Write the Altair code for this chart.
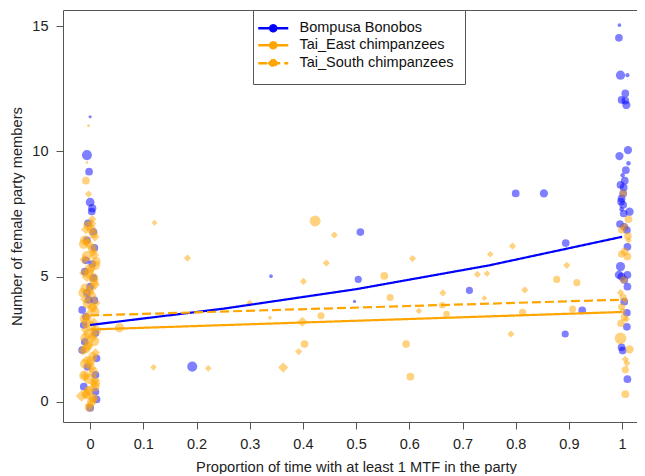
import altair as alt
import pandas as pd

BON = "Bompusa Bonobos"
EAST = "Tai_East chimpanzees"
SOUTH = "Tai_South chimpanzees"
groups = [BON, EAST, SOUTH]
colors = ["#0000FF", "#FFA500", "#FFA500"]
FONT = "Liberation Sans"
FRAME = "#555"

# ---- observed points (x = proportion of time, y = female party members, n = observation weight)
bon_x = [0.000, -0.006, -0.002, 0.000, 0.004, 0.003, -0.004, 0.006, -0.006, 0.008, -0.008, 0.004,
         -0.010, 0.006, 0.000, -0.006, -0.003, 0.008, -0.015, -0.008, -0.012, 0.010, -0.010, -0.015,
         0.012, -0.005, 0.010, -0.012, 0.010, 0.012, 0.000,
         0.508, 0.800, 0.853, 0.894, 0.340, 0.504, 0.713, 0.497, 0.893, 0.192, 0.925,
         0.995, 0.994, 0.997, 1.010, 1.006, 0.999, 1.006, 1.008, 1.011, 0.995, 1.012, 1.007, 1.001,
         1.005, 0.997, 1.003, 1.002, 0.999, 0.998, 1.002, 0.999, 1.014, 1.003, 0.996, 1.004, 1.009,
         1.010, 0.997, 0.994, 0.999, 1.010, 1.004, 1.010, 1.004, 1.009, 1.009, 0.999, 1.001, 1.010]
bon_y = [11.38, 9.85, 9.19, 7.97, 7.73, 7.60, 7.13, 6.79, 6.45, 6.15, 5.65, 5.50,
         5.20, 4.95, 4.60, 4.35, 4.07, 4.05, 3.67, 3.40, 3.07, 2.75, 2.40, 2.07,
         1.74, 1.40, 1.08, 0.61, 0.41, 0.10, -0.24,
         6.78, 8.32, 8.32, 6.34, 5.02, 4.89, 4.45, 4.01, 2.71, 1.41, 3.65,
         15.04, 14.53, 13.04, 13.04, 12.31, 12.05, 12.02, 11.85, 10.05, 9.81, 9.52, 9.25, 9.05,
         8.83, 8.66, 8.56, 8.32, 8.12, 7.99, 7.86, 7.69, 7.59, 7.52, 7.10, 6.99, 6.86,
         6.19, 5.40, 5.07, 5.00, 5.07, 4.87, 4.60, 4.00, 3.56, 3.00, 2.18, 2.05, 0.91]
bon_n = [0.6, 6, 3.5, 4.5, 4, 3.5, 3.5, 3.5, 3.5, 3.5, 3.5, 3.5,
         3.5, 3.5, 3.5, 3.5, 3.5, 3.5, 3.5, 3.5, 3.5, 3.5, 3.5, 3.5,
         3.5, 3.5, 3.5, 3.5, 3.5, 3.5, 3.5,
         3.5, 3.5, 4, 3.5, 0.8, 3, 3, 0.6, 3, 6, 3.5,
         0.8, 3.5, 5, 1, 3.5, 3.5, 3.5, 4, 4, 4, 1.2, 3.5, 1.2,
         3.5, 3.5, 3.5, 3.5, 3.5, 3.5, 3.5, 1.2, 4, 3.5, 3.5, 3.5, 3.5,
         3.5, 5, 4, 4, 3.5, 3.5, 3.5, 3.5, 3.5, 3.5, 3.5, 3.5, 3.5]

east_x = [-0.003, -0.006, -0.008, -0.004, 0.006, -0.010, 0.004, -0.006, 0.010, -0.002, 0.007, -0.009,
          0.003, -0.005, 0.009, -0.011, 0.002, -0.004, 0.008, -0.008, 0.005, -0.010, 0.006, -0.003,
          0.009, -0.007, 0.003, -0.002,
          0.002, -0.012, 0.011, -0.001, 0.007, -0.013, 0.004, -0.007, 0.012, -0.004, 0.001, -0.011,
          0.010, -0.002, 0.006, -0.009,
          0.423, 0.553, 0.877, 0.915, 0.564, 0.662, 0.670, 0.813, 0.907, 0.434, 0.055, 0.403, 0.594, 0.602,
          1.002, 1.012, 1.004, 0.999, 1.011, 1.005, 1.010, 0.999, 1.003, 1.002, 0.999, 1.004, 0.998,
          0.997, 1.014, 1.006, 1.006]
east_y = [11.02, 9.55, 8.83, 7.05, 6.72, 6.45, 6.12, 5.82, 5.45, 5.12, 4.80, 4.52,
          4.22, 3.92, 3.60, 3.32, 3.02, 2.70, 2.42, 2.12, 1.80, 1.52, 1.20, 0.92,
          0.60, 0.30, 0.02, -0.22,
          6.90, 6.30, 5.60, 5.30, 4.95, 4.35, 3.75, 3.15, 2.85, 2.25, 1.65, 1.05, 0.75, 0.45, 0.15, 2.55,
          7.22, 5.03, 4.89, 4.76, 4.17, 3.86, 3.51, 3.58, 3.71, 3.44, 2.96, 2.31, 2.31, 1.01,
          8.32, 7.29, 6.99, 6.86, 6.62, 6.00, 5.80, 5.90, 4.87, 4.18, 3.80, 3.38, 3.14,
          2.54, 2.10, 1.28, 0.31]
east_n = [0.5, 0.4, 3.5, 5, 5, 5.5, 5, 6, 5, 5.5, 5, 6,
          5, 5.5, 5, 5, 6, 5, 5.5, 5, 5, 5.5, 5, 6,
          5, 5.5, 5, 4.5,
          5, 5.5, 5, 6, 5, 5.5, 5, 6, 5, 5.5, 5, 6, 5, 5.5, 5, 6,
          7, 3.5, 3, 3, 3, 2.5, 2.5, 3, 3, 3, 5, 3.5, 3.5, 3.5,
          3, 3.5, 3, 3, 3.5, 3.5, 3.5, 3, 3, 3, 3, 3, 3.5,
          8, 4, 3, 3.5]

south_x = [-0.003, 0.003, -0.008, 0.009, -0.002, 0.006, -0.011, 0.002, -0.006, 0.010, -0.001, -0.010,
           0.005, -0.004, 0.007, -0.009, 0.004, -0.003, 0.010, -0.007, 0.002, -0.010, 0.007, -0.004,
           -0.016, 0.005, -0.001,
           -0.006, 0.008, -0.012, 0.003, 0.011, -0.005, 0.006, -0.013, 0.000, 0.009, -0.008, 0.004,
           0.121, 0.459, 0.183, 0.444, 0.606, 0.752, 0.794, 0.896, 0.401, 0.728, 0.746, 0.663,
           0.817, 0.741, 0.300, 0.618, 0.338, 0.399, 0.392, 0.791, 0.119, 0.222, 0.363,
           0.997, 1.006, 1.001, 1.008, 1.006, 1.009, 1.012]
south_y = [8.30, 7.12, 6.88, 6.58, 6.28, 5.98, 5.68, 5.32, 4.98, 4.68, 4.38, 4.10,
           3.78, 3.48, 3.18, 2.88, 2.56, 2.26, 1.96, 1.66, 1.36, 1.04, 0.74, 0.46,
           0.24, 0.12, -0.12,
           6.40, 5.85, 5.15, 4.55, 3.95, 3.35, 2.70, 2.05, 1.50, 0.88, 0.30, 7.30,
           7.15, 6.66, 5.74, 5.54, 5.72, 5.89, 6.22, 5.45, 4.81, 5.09, 5.13, 4.35,
           4.47, 4.14, 3.94, 3.63, 3.36, 3.20, 2.01, 2.71, 1.38, 1.34, 1.37,
           4.36, 4.05, 3.62, 3.30, 1.70, 1.54, 6.45]
south_n = [3, 5, 5.5, 5, 6, 5, 5.5, 5, 6, 5, 5.5, 5,
           6, 5, 5.5, 5, 6, 5, 5, 5.5, 6, 5, 5.5, 5,
           8, 5, 5,
           5, 5.5, 5, 6, 5, 5.5, 5, 6, 5, 5.5, 5, 4,
           2, 3, 3, 3, 3, 2.5, 3, 3, 3, 3, 2.5, 3,
           3, 2, 3, 2.5, 1.2, 6, 3, 3, 2.5, 2.5, 6,
           3, 2.5, 3, 3, 3, 3, 2.5]

# ---- fitted model lines
fit_bon_x = [0, 0.25, 0.5, 0.75, 1]
fit_bon_y = [3.07, 3.72, 4.50, 5.45, 6.59]
fit_east_x = [0, 1]
fit_east_y = [2.89, 3.59]
fit_south_x = [0, 1]
fit_south_y = [3.45, 4.08]

x_ticks = [0, 0.1, 0.2, 0.3, 0.4, 0.5, 0.6, 0.7, 0.8, 0.9, 1]
y_ticks = [0, 5, 10, 15]

circ = pd.concat([
    pd.DataFrame({"group": BON, "x": bon_x, "y": bon_y, "n": bon_n}),
    pd.DataFrame({"group": EAST, "x": east_x, "y": east_y, "n": east_n}),
], ignore_index=True)
diam = pd.DataFrame({"group": SOUTH, "x": south_x, "y": south_y, "n": south_n})

fits = pd.concat([
    pd.DataFrame({"group": BON, "x": fit_bon_x, "y": fit_bon_y}),
    pd.DataFrame({"group": EAST, "x": fit_east_x, "y": fit_east_y}),
    pd.DataFrame({"group": SOUTH, "x": fit_south_x, "y": fit_south_y}),
], ignore_index=True)

xscale = alt.Scale(domain=[-0.051, 1.028], nice=False, zero=False)
yscale = alt.Scale(domain=[-0.8, 15.64], nice=False, zero=False)
cscale = alt.Scale(domain=groups, range=colors)
dscale = alt.Scale(domain=groups, range=[[1, 0], [1, 0], [9, 4]])
sscale = alt.Scale(domain=[0, 10], range=[0, 170], zero=True)

# legend symbols: a line with the marker in the middle
P_CIRCLE = "M-3,0H3M0.6,0A0.6,0.6,0,1,1,-0.6,0A0.6,0.6,0,1,1,0.6,0Z"
P_DIAMOND = "M-3,0H3M0,-0.8L0.8,0L0,0.8L-0.8,0Z"
hscale = alt.Scale(domain=groups, range=[P_CIRCLE, P_CIRCLE, P_DIAMOND])

xaxis = alt.Axis(values=x_ticks, format="~g", title="Proportion of time with at least 1 MTF in the party",
                 grid=False, domain=True, labelBaseline="alphabetic", labelPadding=19, titleX=293, titleY=49,
                 titleBaseline="alphabetic", titleAlign="center", titleAnchor="start")
xaxis_top = alt.Axis(orient="top", grid=False, domain=True, ticks=False, labels=False, title=None)
yaxis = alt.Axis(values=y_ticks, format="d", title="Number of female party members", grid=False,
                 domain=True, labelPadding=8, labelBaseline="middle", titleX=-46, titleY=206, titleAngle=270,
                 titleAlign="center", titleBaseline="middle", titleAnchor="start")

legend = alt.Legend(orient="none", legendX=190, legendY=0, title=None,
                    symbolSize=100, symbolStrokeWidth=2.5, symbolOffset=2, labelOffset=19,
                    labelFont=FONT, labelFontSize=14.5, labelColor="#111", padding=11, rowPadding=0,
                    strokeColor=FRAME, fillColor="white", symbolOpacity=1)

circles = alt.Chart(circ).mark_point(filled=True, opacity=0.5, strokeWidth=0, shape="circle").encode(
    x=alt.X("x:Q", scale=xscale, axis=xaxis),
    y=alt.Y("y:Q", scale=yscale, axis=yaxis),
    color=alt.Color("group:N", scale=cscale, legend=legend),
    size=alt.Size("n:Q", scale=sscale, legend=None),
)
diamonds = alt.Chart(diam).mark_point(filled=True, opacity=0.5, strokeWidth=0, shape="diamond").encode(
    x=alt.X("x:Q", scale=xscale, axis=None),
    y=alt.Y("y:Q", scale=yscale, axis=yaxis),
    color=alt.Color("group:N", scale=cscale, legend=legend),
    size=alt.Size("n:Q", scale=sscale, legend=None),
)
lines = alt.Chart(fits).mark_line(strokeWidth=2.2).encode(
    x=alt.X("x:Q", scale=xscale, axis=None),
    y=alt.Y("y:Q", scale=yscale, axis=yaxis),
    color=alt.Color("group:N", scale=cscale, legend=legend),
    strokeDash=alt.StrokeDash("group:N", scale=dscale, legend=legend),
)
# invisible layer: carries the legend marker shapes and the top edge of the frame
keys = alt.Chart(fits).mark_point(opacity=0, filled=True).encode(
    x=alt.X("x:Q", scale=xscale, axis=xaxis_top),
    y=alt.Y("y:Q", scale=yscale, axis=yaxis),
    color=alt.Color("group:N", scale=cscale, legend=legend),
    shape=alt.Shape("group:N", scale=hscale, legend=legend),
)

chart = alt.layer(circles, diamonds, lines, keys).resolve_axis(x="independent").properties(
    width=574, height=412,
    autosize=alt.AutoSizeParams(type="none"),
    padding={"left": 55, "top": 2, "right": 0, "bottom": 52},
    background="white",
).configure_view(strokeWidth=0).configure_axis(
    grid=False, domainColor=FRAME, domainWidth=1, tickColor=FRAME, tickSize=7, tickWidth=1,
    labelFont=FONT, labelFontSize=14.5, labelColor="#222",
    titleFont=FONT, titleFontSize=14.7, titleColor="#222", titleFontWeight="normal",
)

chart.save("out.html", embed_options={"renderer": "svg", "actions": False})
